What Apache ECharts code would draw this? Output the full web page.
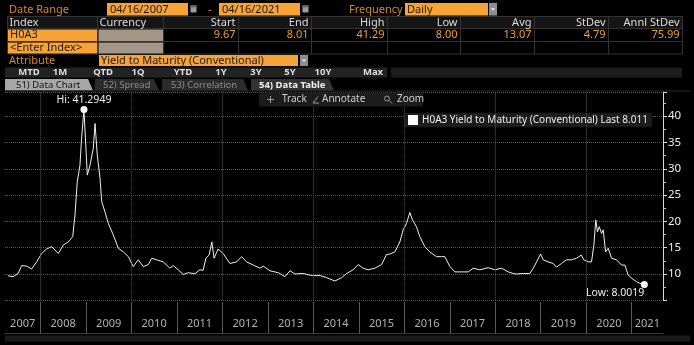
<!DOCTYPE html>
<html>
<head>
<meta charset="utf-8">
<script src="https://cdn.jsdelivr.net/npm/echarts@6/dist/echarts.min.js"></script>
<style>
  html, body { margin: 0; padding: 0; background: #000; }
  #chart { width: 694px; height: 345px; }
</style>
</head>
<body>
<div id="chart"></div>
<script>
// H0A3 yield to maturity, 04/16/2007 - 04/16/2021
const dates = [
  '2007-04-16','2007-05-27','2007-07-07','2007-08-04','2007-09-13','2007-10-23','2007-12-02',
  '2008-01-11','2008-02-20','2008-04-01','2008-05-24','2008-07-03','2008-08-12','2008-09-17',
  '2008-10-05','2008-10-23','2008-11-14','2008-11-27','2008-12-16',
  '2009-01-12','2009-02-03','2009-03-01','2009-03-15','2009-04-02','2009-04-24','2009-05-08',
  '2009-06-03','2009-06-30','2009-08-09','2009-09-18','2009-10-28','2009-12-08',
  '2010-01-16','2010-02-25','2010-04-07','2010-05-17','2010-06-13','2010-07-23','2010-09-14',
  '2010-11-06','2010-12-03',
  '2011-01-12','2011-02-21','2011-04-02','2011-05-26','2011-07-05','2011-07-31','2011-08-22',
  '2011-09-17','2011-10-09','2011-10-27','2011-11-28',
  '2012-01-08','2012-03-02','2012-04-25','2012-06-04','2012-07-14','2012-09-06','2012-10-29','2012-11-25',
  '2013-01-18','2013-03-26','2013-05-18','2013-06-28','2013-08-07','2013-10-12','2013-12-19',
  '2014-02-24','2014-04-18','2014-06-23','2014-08-16','2014-09-25','2014-11-17','2014-12-27',
  '2015-02-05','2015-03-17','2015-05-10','2015-07-03','2015-08-12','2015-09-08','2015-10-18',
  '2015-11-27','2015-12-23',
  '2016-01-19','2016-02-15','2016-03-07','2016-04-08','2016-05-05','2016-06-14','2016-07-24',
  '2016-09-16','2016-10-26','2016-11-22',
  '2017-01-02','2017-02-11','2017-04-06','2017-05-29','2017-07-08','2017-08-31','2017-11-05','2017-12-29',
  '2018-02-21','2018-04-15','2018-05-25','2018-06-21','2018-08-13','2018-10-06','2018-11-02',
  '2018-11-29','2018-12-31',
  '2019-01-21','2019-03-02','2019-04-11','2019-05-08','2019-06-17','2019-07-27','2019-09-05',
  '2019-10-15','2019-11-24','2019-12-12',
  '2020-01-16','2020-02-13','2020-03-03','2020-03-18','2020-04-01','2020-04-15','2020-05-04',
  '2020-05-17','2020-06-05','2020-06-26','2020-07-23','2020-09-01','2020-10-11','2020-11-07','2020-12-03',
  '2021-01-01','2021-01-19','2021-02-09','2021-03-07','2021-03-24','2021-04-12','2021-04-16'
];
const yields = [
  9.67, 9.5, 10.1, 11.6, 11.5, 10.95, 12.3,
  13.9, 14.75, 15.2, 13.9, 15.5, 16.1, 17.1,
  21.2, 27.5, 30.7, 35.8, 41.2949,
  28.8, 30.7, 33.9, 38.6, 32.6, 28.2, 23.7,
  21.8, 19.6, 17.4, 14.9, 14.2, 13.3,
  11.4, 12.7, 11.4, 11.8, 13.0, 12.7, 12.3,
  11.1, 11.6,
  10.8, 9.9, 10.25, 10.05, 10.8, 10.7, 13.0,
  13.6, 16.1, 13.0, 14.75,
  13.9, 12.0, 12.3, 13.3, 12.3, 11.7, 11.1, 11.5,
  10.6, 10.25, 9.5, 10.6, 10.0, 10.1, 9.7,
  9.7, 9.3, 8.67, 9.3, 10.1, 10.8, 11.8,
  11.1, 10.8, 11.1, 11.8, 13.7, 13.8, 14.2,
  16.1, 18.4,
  19.6, 21.7, 20.3, 19.0, 17.1, 15.2, 14.2,
  13.3, 13.3, 13.3,
  11.4, 10.4, 10.4, 10.4, 11.1, 10.8, 11.2, 10.8,
  11.1, 10.4, 10.1, 10.0, 10.1, 10.1, 11.1,
  12.3, 13.8,
  12.7, 12.3, 12.0, 11.3, 12.0, 12.7, 12.7,
  13.0, 13.6, 12.7,
  12.3, 12.3, 15.5, 20.3, 18.0, 19.0, 17.7,
  18.4, 14.2, 14.9, 13.0, 12.7, 11.7, 11.7, 9.8,
  9.2, 8.86, 8.54, 8.23, 8.12, 8.0019, 8.011
];

// Bottom bar year labels and dotted vertical gridline years
const yearLabels = ['2007','2008','2009','2010','2011','2012','2013','2014','2015','2016','2017','2018','2019','2020','2021'];
const gridYears = [2008, 2010, 2012, 2014, 2016, 2018, 2020];

// Summary statistics shown in the header table
const statAvg = '13.07';
const statStDev = '4.79';
const statAnnlStDev = '75.99';

const seriesName = 'H0A3 Yield to Maturity (Conventional)';
const FONT = "'Noto Sans', 'DejaVu Sans', sans-serif";
const ORANGE = '#f7a338';
const AMBER = '#d2892c';
const VALUE = '#f29f2f';
const HS = 11;

const toTime = s => { const p = s.split('-').map(Number); return new Date(p[0], p[1] - 1, p[2]).getTime(); };
const axisMin = toTime('2007-03-23');
const axisMax = toTime('2021-09-09');

const lineData = dates.map((d, i) => [toTime(d), yields[i]]);
const first = yields[0], last = yields[yields.length - 1];
const hi = Math.max(...yields), lo = Math.min(...yields);

const yearMarks = yearLabels.map(y => {
  const a = Math.max(new Date(+y, 0, 1).getTime(), axisMin);
  const b = Math.min(new Date(+y + 1, 0, 1).getTime(), axisMax);
  return { name: y, value: [(a + b) / 2, 0.31] };
});

// ---- header panel drawing helpers ----
const ui = [];
function box(x, y, w, h, fill, stroke) {
  ui.push({ type: 'rect', z: 100, silent: true, shape: { x, y, width: w, height: h },
    style: { fill: fill || 'none', stroke: stroke || null, lineWidth: stroke ? 1 : 0 } });
}
function txt(x, y, text, color, size, align, weight, family) {
  ui.push({ type: 'text', z: 101, silent: true, x, y,
    style: { text, fill: color, font: `${weight || 'normal'} ${size || 11}px ${family || FONT}`,
      textAlign: align || 'left', textVerticalAlign: 'middle', align: align || 'left', verticalAlign: 'middle' } });
}
function poly(points, fill) {
  ui.push({ type: 'polygon', z: 100, silent: true, shape: { points }, style: { fill } });
}
function seg(x1, y1, x2, y2, color) {
  ui.push({ type: 'line', z: 101, silent: true, shape: { x1, y1, x2, y2 }, style: { stroke: color, lineWidth: 1 } });
}
function calendar(x, y) {
  box(x, y, 6, 7, '#9b9b9b');
  box(x, y, 6, 2, '#6a6a6a');
}
function dropdown(x, y, h) {
  box(x, y, 8, h, '#8e8e8e');
  poly([[x + 2, y + h / 2 - 1], [x + 6, y + h / 2 - 1], [x + 4, y + h / 2 + 1.5]], '#f0f0f0');
}

// Row: date range / frequency
txt(9, 9.5, 'Date Range', AMBER, HS);
box(107, 3, 81, 12.5, ORANGE);
txt(110, 9.5, '04/16/2007', '#1a1a1a', HS);
calendar(190.5, 5.5);
txt(208, 9.5, '-', AMBER, HS);
box(219, 3, 81, 12.5, ORANGE);
txt(222, 9.5, '04/16/2021', '#1a1a1a', HS);
calendar(302.5, 5.5);
txt(349, 9.5, 'Frequency', AMBER, HS);
box(405, 3, 83, 12.5, ORANGE);
txt(407, 9.5, 'Daily', '#1a1a1a', HS);
dropdown(489, 3, 12.5);

// Statistics table
const colX = [7.5, 97.5, 163.5, 238.5, 311.5, 387.5, 460.5, 534.5, 608.5, 682.5];
const rowY = [16.5, 28.5, 41.5, 54];
box(7.5, 16.5, 675, 12, '#151515');
for (let r = 0; r < 3; r++) {
  for (let c = 0; c < colX.length - 1; c++) {
    box(colX[c], rowY[r], colX[c + 1] - colX[c], rowY[r + 1] - rowY[r], null, '#333');
  }
}
const heads = ['Index', 'Currency', 'Start', 'End', 'High', 'Low', 'Avg', 'StDev', 'Annl StDev'];
heads.forEach((h, i) => {
  if (i < 2) txt(colX[i] + 2, 22.5, h, '#dcdcdc', HS);
  else txt(colX[i + 1] - 3, 22.5, h, '#dcdcdc', HS, 'right');
});
box(8, 29.5, 89, 11.5, ORANGE);
box(98.5, 29.5, 64.5, 11.5, '#a3978a');
txt(10, 35.3, 'H0A3', '#1a1a1a', HS);
const vals = [first.toFixed(2), last.toFixed(2), hi.toFixed(2), lo.toFixed(2), statAvg, statStDev, statAnnlStDev];
vals.forEach((v, i) => txt(colX[i + 3] - 3, 35.3, v, VALUE, HS, 'right'));
box(8, 42.5, 89, 11, ORANGE);
box(98.5, 42.5, 64.5, 11, '#a3978a');
txt(10, 48, '<Enter Index>', '#1a1a1a', HS);

// Attribute row
txt(9, 60.5, 'Attribute', AMBER, HS);
box(99, 55, 199, 11, ORANGE);
txt(101, 60.5, 'Yield to Maturity (Conventional)', '#1a1a1a', HS);
dropdown(300, 55, 11);

// Period buttons
box(5, 67.5, 382, 10, '#232323');
box(391, 67.5, 291, 10, '#1c1c1c');
[['MTD', 29], ['1M', 60], ['QTD', 103], ['1Q', 138], ['YTD', 183], ['1Y', 221], ['3Y', 256], ['5Y', 290], ['10Y', 323], ['Max', 373]]
  .forEach(([t, x]) => txt(x, 72.5, t, '#dedede', 9.5, 'center', 'bold'));

// Tabs
poly([[5, 79], [88, 79], [93, 90.5], [5, 90.5]], '#a6a6a6');
txt(16, 85, '51) Data Chart', '#151515', 9.5);
poly([[95, 79], [154, 79], [159, 90.5], [95, 90.5]], '#2c2c2c');
txt(103, 85, '52) Spread', '#8a8a8a', 9.5);
poly([[162, 79], [243, 79], [248, 90.5], [162, 90.5]], '#2c2c2c');
txt(171, 85, '53) Correlation', '#8a8a8a', 9.5);
poly([[251, 79], [329, 79], [334, 90.5], [251, 90.5]], '#333');
txt(259, 85, '54) Data Table', '#eeeeee', 9.5, 'left', 'bold');
seg(5, 91, 690, 91, '#2a2a2a');

// Chart toolbar
box(259, 92.5, 164, 14, '#1c1c1c');
seg(267, 99.5, 274, 99.5, '#9a9a9a');
seg(270.5, 96, 270.5, 103, '#9a9a9a');
txt(282, 99.5, 'Track', '#cfcfcf', 10);
seg(313, 103, 319, 103, '#9a9a9a');
seg(313, 103, 318, 96.5, '#9a9a9a');
txt(322, 99.5, 'Annotate', '#cfcfcf', 10);
ui.push({ type: 'circle', z: 101, silent: true, shape: { cx: 387, cy: 98.5, r: 2.5 }, style: { fill: 'none', stroke: '#9a9a9a', lineWidth: 1 } });
seg(389, 100.5, 392, 103.5, '#9a9a9a');
txt(397, 99.5, 'Zoom', '#cfcfcf', 10);

// Scroll strip under the year bar
box(5, 335.5, 685, 6, '#1a1a1a');

const chart = echarts.init(document.getElementById('chart'), null, { renderer: 'canvas' });
chart.setOption({
  backgroundColor: '#000',
  animation: false,
  textStyle: { fontFamily: FONT },
  graphic: { elements: ui },
  legend: {
    data: [seriesName],
    left: 405, top: 113,
    padding: [2, 4, 2, 3],
    backgroundColor: '#1c1c1c',
    icon: 'rect', itemWidth: 10, itemHeight: 10,
    itemStyle: { color: '#ffffff' },
    selectedMode: false,
    formatter: n => n + ' Last ' + last.toFixed(3),
    textStyle: { color: '#eeeeee', fontSize: 10, fontFamily: FONT, padding: [0, 0, 0, -1] }
  },
  grid: [
    { left: 5, right: 31, top: 92, bottom: 44.7 },
    { left: 5, right: 31, top: 302, height: 31 }
  ],
  xAxis: [
    { type: 'time', gridIndex: 0, min: axisMin, max: axisMax,
      axisLine: { show: false }, axisTick: { show: false }, axisLabel: { show: false }, splitLine: { show: false } },
    { type: 'time', gridIndex: 1, min: axisMin, max: axisMax, position: 'top',
      axisLine: { show: true, lineStyle: { color: '#3a3a3a' } }, axisTick: { show: false },
      axisLabel: { show: false }, splitLine: { show: false } }
  ],
  yAxis: [
    { type: 'value', gridIndex: 0, position: 'right', min: 5, max: 44.6, interval: 5,
      axisLine: { show: true, lineStyle: { color: '#d8d8d8' } },
      axisTick: { show: true, length: 4, lineStyle: { color: '#d8d8d8' } },
      minorTick: { show: true, splitNumber: 2, length: 3, lineStyle: { color: '#bbbbbb' } },
      axisLabel: { color: '#eeeeee', fontSize: 11.5, margin: 5, showMinLabel: false, showMaxLabel: false, fontFamily: FONT },
      splitLine: { show: true, lineStyle: { color: '#575757', type: 'dotted', width: 1 } } },
    { type: 'value', gridIndex: 1, min: 0, max: 1, show: false }
  ],
  series: [
    {
      // dotted vertical gridlines every two years
      type: 'line', xAxisIndex: 0, yAxisIndex: 0, data: [], z: 1, silent: true,
      markLine: {
        silent: true, symbol: ['none', 'none'], label: { show: false },
        lineStyle: { color: '#575757', type: 'dotted', width: 1 },
        data: gridYears.map(y => ({ xAxis: new Date(y, 0, 1).getTime() }))
      }
    },
    {
      name: seriesName, type: 'line', xAxisIndex: 0, yAxisIndex: 0, z: 3,
      data: lineData, showSymbol: false, symbol: 'none',
      lineStyle: { color: '#f0f0f0', width: 1 },
      itemStyle: { color: '#ffffff' },
      markPoint: {
        symbol: 'circle', symbolSize: 7, silent: true,
        itemStyle: { color: '#ffffff' },
        data: [
          { type: 'max', label: { show: true, position: 'top', distance: 0, color: '#eeeeee', fontSize: 10.5,
              fontFamily: FONT, formatter: p => 'Hi: ' + p.value } },
          { type: 'min', label: { show: true, position: 'bottom', distance: 0, align: 'right', color: '#eeeeee',
              fontSize: 10.5, fontFamily: FONT, formatter: p => 'Low: ' + p.value } }
        ]
      }
    },
    {
      // year bar: separators at each January 1 and centred year labels
      type: 'scatter', xAxisIndex: 1, yAxisIndex: 1, silent: true,
      symbol: 'circle', symbolSize: 1, itemStyle: { color: 'rgba(0,0,0,0)' },
      data: yearMarks,
      label: { show: true, position: 'inside', formatter: '{b}', color: '#dcdcdc', fontSize: 11, fontFamily: FONT },
      markLine: {
        silent: true, symbol: ['none', 'none'], label: { show: false },
        lineStyle: { color: '#5a5a5a', type: 'solid', width: 1 },
        data: yearLabels.slice(1).map(y => ({ xAxis: new Date(+y, 0, 1).getTime() }))
      }
    }
  ]
});
</script>
</body>
</html>
